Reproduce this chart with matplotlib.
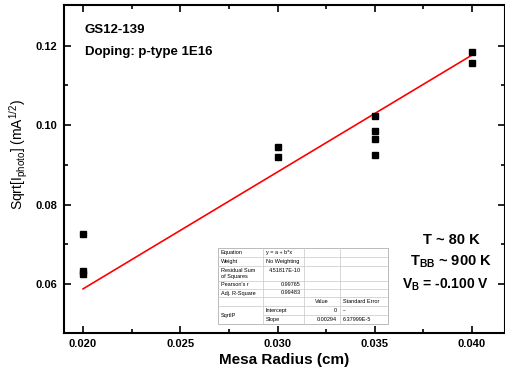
"""
Photocurrent vs mesa radius, GS12-139, with linear fit through the origin.
Outputs: out.png
"""
import matplotlib.pyplot as plt
import numpy as np
from matplotlib.patches import Rectangle

plt.rcParams['font.family'] = ['Liberation Sans', 'DejaVu Sans']
plt.rcParams['mathtext.fontset'] = 'custom'
plt.rcParams['mathtext.rm'] = 'Liberation Sans'
plt.rcParams['mathtext.bf'] = 'Liberation Sans:bold'

# measured points (several devices per radius)
radius = [0.020, 0.020, 0.020,
          0.030, 0.030,
          0.035, 0.035, 0.035, 0.035,
          0.040, 0.040]
sqrt_iphoto = [0.0725, 0.0633, 0.0625,
               0.0946, 0.0919,
               0.1024, 0.0986, 0.0964, 0.0924,
               0.1185, 0.1155]

# fit y = a + b*x
fit_a = 0.0
fit_b = 2.94
fit_x = [0.020, 0.040]

# fit report table (as shown in the inset)
table_rows = [
    ['Equation', 'y = a + b*x', '', ''],
    ['Weight', 'No Weighting', '', ''],
    ['Residual Sum\nof Squares', '4.51817E-10', '', ''],
    ["Pearson's r", '0.99765', '', ''],
    ['Adj. R-Square', '0.99483', '', ''],
    ['', '', 'Value', 'Standard Error'],
    ['SqrtIP', 'Intercept', '0', '--'],
    ['', 'Slope', '0.00294', '6.37999E-5'],
]

W, H = 506, 373
fig = plt.figure(figsize=(W / 100, H / 100), dpi=100)
ax = fig.add_axes([64 / W, 1 - 333 / H, (505 - 64) / W, (333 - 5) / H])

ax.plot(radius, sqrt_iphoto, 's', color='black', markersize=5, zorder=3)
fx = np.array(fit_x)
ax.plot(fx, fit_a + fit_b * fx, color='red', lw=1.2, zorder=2)

ax.set_xlim(0.01902, 0.04170)
ax.set_ylim(0.0477, 0.1302)
ax.set_xticks([0.020, 0.025, 0.030, 0.035, 0.040])
ax.set_yticks([0.06, 0.08, 0.10, 0.12])
ax.set_xticks([0.0225, 0.0275, 0.0325, 0.0375], minor=True)
ax.set_yticks([0.07, 0.09, 0.11], minor=True)
ax.xaxis.set_major_formatter(plt.FormatStrFormatter('%.3f'))
ax.yaxis.set_major_formatter(plt.FormatStrFormatter('%.2f'))
ax.tick_params(which='both', direction='in', top=True, right=True, width=1.2)
ax.tick_params(which='major', length=5, labelsize=8)
ax.tick_params(axis='x', pad=4)
ax.tick_params(axis='y', pad=5)
ax.tick_params(which='minor', length=3)
for lab in ax.get_xticklabels() + ax.get_yticklabels():
    lab.set_fontweight('bold')
for sp in ax.spines.values():
    sp.set_linewidth(1.5)

ax.set_xlabel('Mesa Radius (cm)', fontsize=11, fontweight='bold', labelpad=3)
ax.set_ylabel(r'Sqrt[I$_{\mathrm{photo}}$] (mA$^{1/2}$)', fontsize=10)
ax.yaxis.set_label_coords(-0.078, 0.543)

ax.text(0.047, 0.924, 'GS12-139', transform=ax.transAxes, fontsize=9.5,
        fontweight='bold', va='center')
ax.text(0.047, 0.858, 'Doping: p-type 1E16', transform=ax.transAxes, fontsize=9.5,
        fontweight='bold', va='center')
ax.text(0.878, 0.285, 'T ~ 80 K', transform=ax.transAxes, fontsize=10.5,
        fontweight='bold', ha='center', va='center')
ax.text(0.878, 0.218, r'T$_{\mathbf{BB}}$ ~ 900 K', transform=ax.transAxes,
        fontsize=10.5, fontweight='bold', ha='center', va='center')
ax.text(0.865, 0.148, r'V$_{\mathbf{B}}$ = -0.100 V', transform=ax.transAxes,
        fontsize=10, fontweight='bold', ha='center', va='center')

# inset fit table, drawn in figure pixels
col_edges = [218, 263, 304, 340, 388]
row_edges = [248, 257, 266, 281, 289, 297, 306, 315, 324]
fx_ = lambda px: px / W
fy_ = lambda py: 1 - py / H
fs = 4.0
fig.patches.append(Rectangle((fx_(col_edges[0]), fy_(row_edges[-1])),
                             (col_edges[-1] - col_edges[0]) / W,
                             (row_edges[-1] - row_edges[0]) / H,
                             transform=fig.transFigure, facecolor='white',
                             edgecolor='#b0b0b0', lw=0.6, zorder=5))
grid = dict(color='#c8c8c8', lw=0.5, transform=fig.transFigure, zorder=6)
for r in row_edges[1:-1]:
    x0 = col_edges[1] if r == row_edges[7] else col_edges[0]
    fig.add_artist(plt.Line2D([fx_(x0), fx_(col_edges[-1])], [fy_(r), fy_(r)], **grid))
for c in col_edges[1:-1]:
    fig.add_artist(plt.Line2D([fx_(c), fx_(c)], [fy_(row_edges[0]), fy_(row_edges[-1])], **grid))

for i, row in enumerate(table_rows):
    yc = fy_((row_edges[i] + row_edges[i + 1]) / 2)
    for j, txt in enumerate(row):
        if not txt:
            continue
        if i == 6 and j == 0:
            yc2 = fy_((row_edges[6] + row_edges[8]) / 2)
            fig.text(fx_(col_edges[0] + 3), yc2, txt, fontsize=fs, va='center', zorder=7)
            continue
        right = (j >= 1 and i in (3, 4)) or (j == 2 and i in (6, 7))
        if right:
            fig.text(fx_(col_edges[j + 1] - 3), yc, txt, fontsize=fs,
                     ha='right', va='center', zorder=7)
        elif i == 5 and j == 2:
            fig.text(fx_((col_edges[2] + col_edges[3]) / 2), yc, txt, fontsize=fs,
                     ha='center', va='center', zorder=7)
        elif i == 2 and j == 1:
            fig.text(fx_(col_edges[2] - 3), fy_(row_edges[2] + 4.5), txt, fontsize=fs,
                     ha='right', va='center', zorder=7)
        else:
            fig.text(fx_(col_edges[j] + 3), yc, txt, fontsize=fs, va='center',
                     linespacing=1.1, zorder=7)

fig.savefig('out.png', dpi=100)
